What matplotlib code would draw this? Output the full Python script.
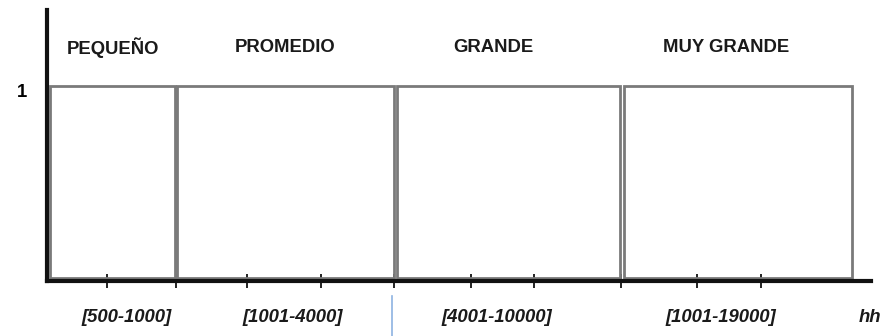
import matplotlib.pyplot as plt
from matplotlib.patches import Rectangle

# category boxes on a horizontal scale (0..824 units), height 1
categories = ["PEQUEÑO", "PROMEDIO", "GRANDE", "MUY GRANDE"]
ranges = ["[500-1000]", "[1001-4000]", "[4001-10000]", "[1001-19000]"]
box_left = [3, 130, 350, 577]
box_right = [128, 347, 573, 805]
box_height = [1, 1, 1, 1]
title_x = [66, 238, 446, 679]
range_x = [80, 246, 450, 674]
tick_pos = [60, 129, 200, 274, 347, 424, 487, 574, 650, 714]
unit_label = "hh"
unit_x = 823
divider_x = 345

fig = plt.figure(figsize=(8.91, 3.36), dpi=100)
W, H = 891, 336
ax = fig.add_axes([47 / W, (H - 281) / H, 824 / W, 271 / H])
ax.set_xlim(0, 824)
ax.set_ylim(0, 271 / 195)

for l, r, h in zip(box_left, box_right, box_height):
    ax.add_patch(Rectangle((l, 0.015), r - l, h - 0.015, fill=False,
                           edgecolor="#7a7a7a", linewidth=2, zorder=2))

fs = 13.3
for name, x in zip(categories, title_x):
    ax.text(x, 1.195, name, ha="center", va="center", fontsize=fs,
            fontweight="bold", family="Liberation Sans", color="#1a1a1a")

for lab, x in zip(ranges, range_x):
    ax.text(x, -0.135, lab, transform=ax.get_xaxis_transform(), ha="center",
            va="center", fontsize=fs, fontweight="bold", fontstyle="italic",
            family="Liberation Sans", color="#1a1a1a")
ax.text(unit_x, -0.135, unit_label, transform=ax.get_xaxis_transform(),
        ha="center", va="center", fontsize=fs, fontweight="bold",
        fontstyle="italic", family="Liberation Sans", color="#1a1a1a")

ax.plot([divider_x, divider_x], [-0.055, -0.21], color="#8db3e2", lw=1.2,
        transform=ax.get_xaxis_transform(), clip_on=False)

ax.set_xticks(tick_pos)
ax.set_xticklabels([])
ax.tick_params(axis="x", direction="inout", length=10, width=1.3, color="#111111")
ax.set_yticks([0.975])
ax.set_yticklabels(["1"], fontsize=fs, fontweight="bold", family="Liberation Sans")
ax.tick_params(axis="y", length=0, pad=14.5)

for s in ["top", "right"]:
    ax.spines[s].set_visible(False)
for s in ["left", "bottom"]:
    ax.spines[s].set_linewidth(3)
    ax.spines[s].set_color("#111111")
    ax.spines[s].set_zorder(3)

fig.savefig("out.png", dpi=100)
